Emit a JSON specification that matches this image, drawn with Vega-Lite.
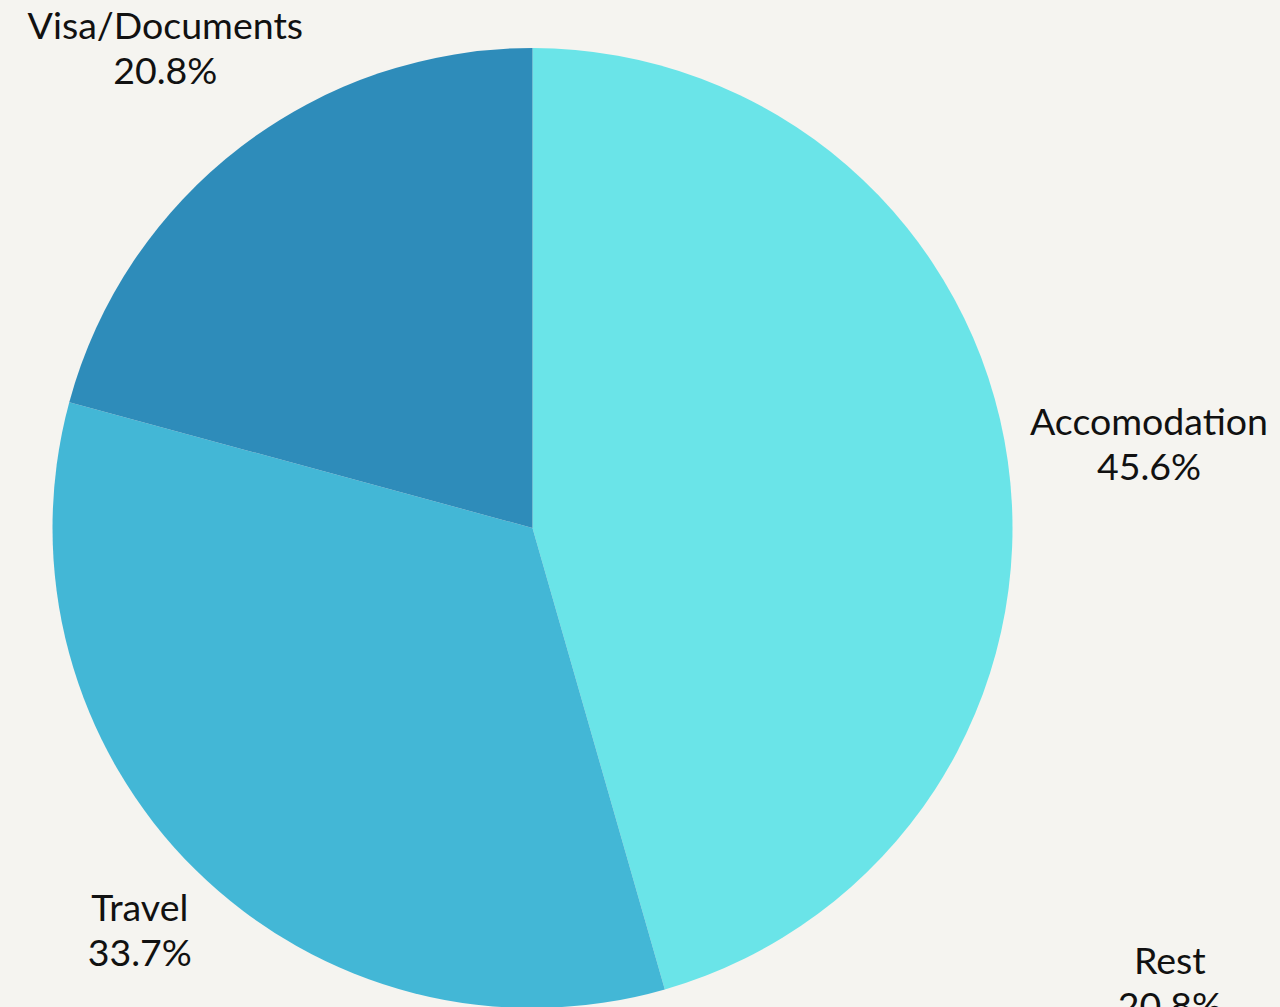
{
  "$schema": "https://vega.github.io/schema/vega-lite/v6.json",
  "width": 1065,
  "height": 1056,
  "autosize": {"type": "none"},
  "padding": {"left": 0, "top": 0, "right": 215, "bottom": 0},
  "background": "#f5f4f0",
  "config": {"view": {"stroke": null}},
  "datasets": {
    "slices": [
      {"category": "Accomodation", "value": 45.6},
      {"category": "Travel", "value": 33.7},
      {"category": "Visa/Documents", "value": 20.8}
    ],
    "labels": [
      {"label": "Accomodation", "share": 0.456, "angle": 81.4, "dist": 1.299},
      {"label": "Travel", "share": 0.337, "angle": 225.0, "dist": 1.157},
      {"label": "Visa/Documents", "share": 0.208, "angle": 323.1, "dist": 1.274},
      {"label": "Rest", "share": 0.208, "angle": 125.0, "dist": 1.621}
    ]
  },
  "layer": [
    {
      "data": {"name": "slices"},
      "mark": {"type": "arc", "outerRadius": 480},
      "encoding": {
        "theta": {"field": "value", "type": "quantitative", "stack": true},
        "color": {
          "field": "category",
          "type": "nominal",
          "scale": {
            "domain": ["Accomodation", "Travel", "Visa/Documents"],
            "range": ["#6ae4e8", "#43b7d6", "#2e8cba"]
          },
          "legend": null
        },
        "order": {"field": "category", "sort": "ascending"}
      }
    },
    {
      "data": {"name": "labels"},
      "mark": {"type": "text", "font": "Lato", "fontSize": 37.5, "align": "center", "baseline": "alphabetic", "color": "#111111"},
      "encoding": {
        "theta": {"field": "angle", "type": "quantitative", "stack": null, "scale": {"domain": [0, 360], "range": [0, 6.283185307179586]}},
        "radius": {"field": "dist", "type": "quantitative", "scale": {"type": "linear", "domain": [0, 1], "range": [0, 480], "zero": true}},
        "text": {"field": "label", "type": "nominal"}
      }
    },
    {
      "data": {"name": "labels"},
      "mark": {"type": "text", "font": "Lato", "fontSize": 37.5, "align": "center", "baseline": "alphabetic", "color": "#111111", "dy": 45},
      "encoding": {
        "theta": {"field": "angle", "type": "quantitative", "stack": null, "scale": {"domain": [0, 360], "range": [0, 6.283185307179586]}},
        "radius": {"field": "dist", "type": "quantitative", "scale": {"type": "linear", "domain": [0, 1], "range": [0, 480], "zero": true}},
        "text": {"field": "share", "type": "quantitative", "format": ".1%"}
      }
    }
  ],
  "resolve": {"scale": {"theta": "independent", "radius": "independent"}}
}
